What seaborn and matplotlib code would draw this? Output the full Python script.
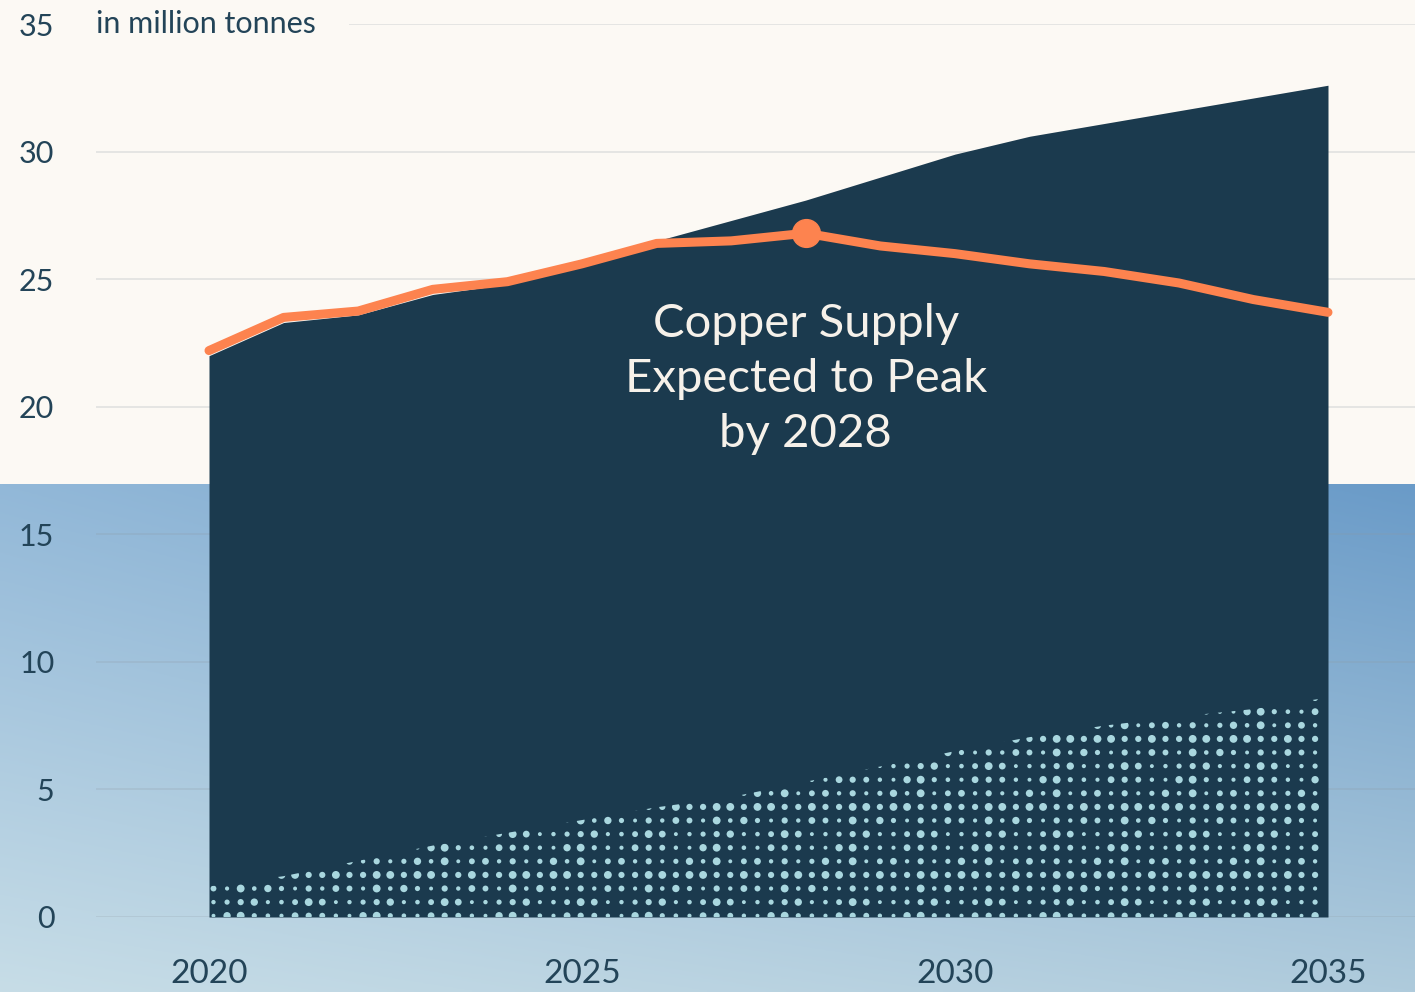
import numpy as np
import pandas as pd
import matplotlib.pyplot as plt
import seaborn as sns
from matplotlib.path import Path
from matplotlib.patches import PathPatch, Rectangle

years = list(range(2020, 2036))
demand = [22.0, 23.3, 23.6, 24.4, 24.8, 25.7, 26.5, 27.3, 28.1, 29.0, 29.9, 30.6, 31.1, 31.6, 32.1, 32.6]
supply = [22.2, 23.5, 23.75, 24.6, 24.9, 25.6, 26.4, 26.5, 26.8, 26.3, 26.0, 25.6, 25.3, 24.85, 24.2, 23.7]
gap = [1.2, 1.6, 2.2, 2.8, 3.3, 3.8, 4.3, 4.7, 5.3, 5.9, 6.5, 7.05, 7.5, 7.85, 8.15, 8.6]
yticks = [0, 5, 10, 15, 20, 25, 30, 35]
xticks = [2020, 2025, 2030, 2035]
peak_year = 2028
unit_label = "in million tonnes"
note = "Copper Supply\nExpected to Peak\nby 2028"

df = pd.DataFrame({"year": years, "demand": demand, "supply": supply, "gap": gap})

sns.set_style("white")
plt.rcParams["font.family"] = ["Lato", "DejaVu Sans"]

NAVY = "#1b3a4e"
ORANGE = "#fd834f"
CREAM = "#fcf9f4"
DOT = "#a9d7df"
TXT = "#234458"

fig = plt.figure(figsize=(14.15, 9.92), dpi=100)
fig.patch.set_facecolor(CREAM)

# blue gradient background on the lower half
bg = fig.add_axes([0, 0, 1, 0.512])
tl = np.array([0x92, 0xb8, 0xd8]) / 255
tr = np.array([0x6a, 0x9b, 0xc8]) / 255
bl = np.array([0xc7, 0xdd, 0xe7]) / 255
br = np.array([0xaf, 0xcb, 0xdc]) / 255
u = np.linspace(0, 1, 300)[None, :, None]
v = np.linspace(0, 1, 200)[:, None, None]
img = (1 - v) * ((1 - u) * tl + u * tr) + v * ((1 - u) * bl + u * br)
bg.imshow(img, aspect="auto", extent=[0, 1, 0, 1])
bg.set_axis_off()

ax = fig.add_axes([96 / 1415, 1 - 917 / 992, 1 - 96 / 1415, (917 - 24) / 992])
ax.set_facecolor("none")

ax.fill_between(df["year"], 0, df["demand"], color=NAVY, lw=0, zorder=2)

# dotted region
poly = list(zip(df["year"], df["gap"])) + [(years[-1], 0), (years[0], 0)]
clip = PathPatch(Path(poly), transform=ax.transData, facecolor="none", edgecolor="none")
ax.add_patch(clip)
gx = np.arange(2020.06, 2035.0, 13.6 / 74.6)
gy = np.arange(0.05, 9.0, 13.6 / 25.51)
XX, YY = np.meshgrid(gx, gy)
ii, jj = np.meshgrid(np.arange(len(gx)), np.arange(len(gy)))
pattern = np.array([8, 14, 24, 10, 32, 9, 18, 28, 11, 20])
sizes = pattern[(ii * 7 + jj * 3 + (ii * jj) % 5) % len(pattern)]
dots = ax.scatter(XX.ravel(), YY.ravel(), s=sizes.ravel(), color=DOT, lw=0, zorder=3)
dots.set_clip_path(clip)

sns.lineplot(data=df, x="year", y="supply", color=ORANGE, lw=6.5, ax=ax, zorder=5,
             solid_capstyle="round", solid_joinstyle="round")
ax.plot([peak_year], [supply[years.index(peak_year)]], "o", color=ORANGE, ms=20, zorder=6)

ax.text(peak_year, 21.1, note, ha="center", va="center", color="#f6f1ea",
        fontsize=34, linespacing=1.38, zorder=7)

ax.set_xlim(2020 - 113 / 74.6, 2035 + 87 / 74.6)
ax.set_ylim(0, 35)
ax.set_xticks(xticks)
ax.set_yticks(yticks)
ax.set_xlabel("")
ax.set_ylabel("")
ax.grid(axis="y", color="#8e9aa3", alpha=0.25, lw=1.2)
ax.grid(axis="x", visible=False)
ax.set_axisbelow(True)
for s in ax.spines.values():
    s.set_visible(False)
ax.tick_params(axis="y", length=0, pad=30, labelsize=22, labelcolor=TXT)
ax.tick_params(axis="x", length=0, pad=30, labelsize=24, labelcolor=TXT)

# unit label, with a cream patch hiding the top gridline behind it
ax.add_patch(Rectangle((0, 34.3), 0.192, 1.4, transform=ax.get_yaxis_transform(),
                       facecolor=CREAM, edgecolor="none", zorder=1, clip_on=False))
ax.text(0.0, 35, unit_label, ha="left", va="center", fontsize=22, color=TXT,
        transform=ax.get_yaxis_transform(), zorder=2)

fig.savefig("out.png", dpi=100, facecolor=fig.get_facecolor())
